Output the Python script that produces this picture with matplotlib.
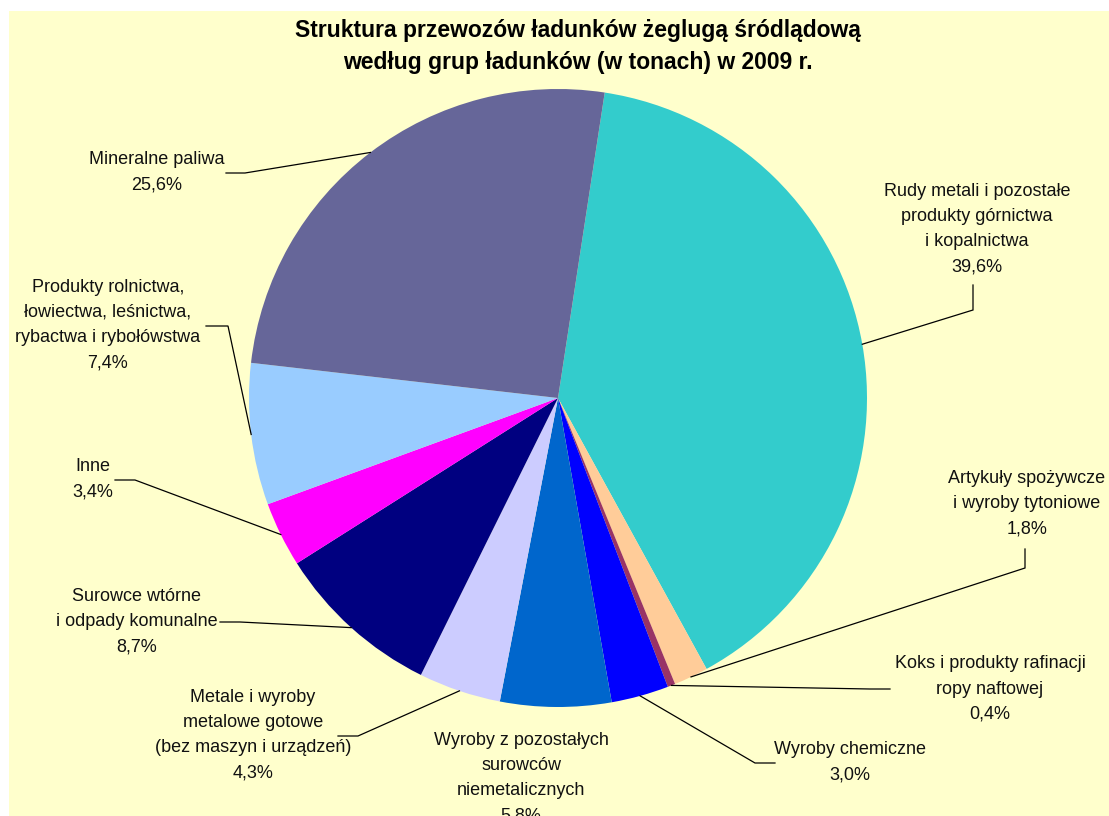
import numpy as np
import matplotlib
matplotlib.use("Agg")
import matplotlib.pyplot as plt
from matplotlib.patches import Rectangle

plt.rcParams["font.family"] = ["Liberation Sans", "DejaVu Sans"]

# ── data ───────────────────────────────────────────────────────────────
categories = [
    "Rudy metali i pozostałe\nprodukty górnictwa\ni kopalnictwa",
    "Artykuły spożywcze\ni wyroby tytoniowe",
    "Koks i produkty rafinacji\nropy naftowej",
    "Wyroby chemiczne",
    "Wyroby z pozostałych\nsurowców\nniemetalicznych",
    "Metale i wyroby\nmetalowe gotowe\n(bez maszyn i urządzeń)",
    "Surowce wtórne\ni odpady komunalne",
    "Inne",
    "Produkty rolnictwa,\nłowiectwa, leśnictwa,\nrybactwa i rybołówstwa",
    "Mineralne paliwa",
]
shares = [39.6, 1.8, 0.4, 3.0, 5.8, 4.3, 8.7, 3.4, 7.4, 25.6]
colors = ["#33CCCC", "#FFCC99", "#993366", "#0000FF", "#0066CC",
          "#CCCCFF", "#000080", "#FF00FF", "#99CCFF", "#666699"]

TITLE = ("Struktura przewozów ładunków żeglugą śródlądową\n"
         "według grup ładunków (w tonach) w 2009 r.")

# ── layout (pixel coords, y measured from top) ─────────────────────────
W, H = 1109, 816
CX, CY, R = 558, 398, 309
START = 81.3

# label centre, then leader path: label end -> elbow (None = no leader)
label_pos = [(977, 229), (1027, 504), (990, 689), (850, 762), (521, 778),
             (253, 735), (137, 622), (93, 479), (108, 325), (157, 172)]
leaders = [
    ((973, 285), (973, 310)),
    ((1025, 549), (1025, 568)),
    ((890, 689), (870, 689)),
    ((775, 763), (755, 763)),
    None,
    ((338, 736), (358, 736)),
    ((220, 622), (240, 622)),
    ((115, 480), (135, 480)),
    ((206, 326), (228, 326)),
    ((226, 173), (245, 173)),
]

BG = "#FFFFCC"
TXT = "#111111"

fig = plt.figure(figsize=(W / 100, H / 100), dpi=100, facecolor="white")
ax = fig.add_axes([0, 0, 1, 1])

wedges, _ = ax.pie(shares, colors=colors, startangle=START, counterclock=False,
                   center=(CX, H - CY), radius=R,
                   wedgeprops=dict(linewidth=0))
ax.set_xlim(0, W)
ax.set_ylim(0, H)
ax.set_aspect("equal")
ax.axis("off")

ax.add_patch(Rectangle((9, 0), W - 9, H - 11, facecolor=BG, edgecolor="none",
                       zorder=-5))

for w, cat, val, (lx, ly), ld in zip(wedges, categories, shares, label_pos, leaders):
    txt = f"{cat}\n{val:.1f}%".replace(".", ",")
    ax.text(lx, H - ly, txt, ha="center", va="center", fontsize=13,
            color=TXT, linespacing=1.64, clip_on=True)
    if ld is None:
        continue
    mid = np.deg2rad((w.theta1 + w.theta2) / 2)
    ax_x = CX + R * np.cos(mid)
    ax_y = (H - CY) + R * np.sin(mid)
    (ex, ey), (bx, by) = ld
    ax.plot([ex, bx, ax_x], [H - ey, H - by, ax_y], color="black", lw=0.9,
            solid_joinstyle="miter")

ax.text(578, H - 47, TITLE, ha="center", va="center", fontsize=16.5,
        fontweight="bold", color="black", linespacing=1.5)

fig.savefig("out.png", dpi=100, facecolor="white")
